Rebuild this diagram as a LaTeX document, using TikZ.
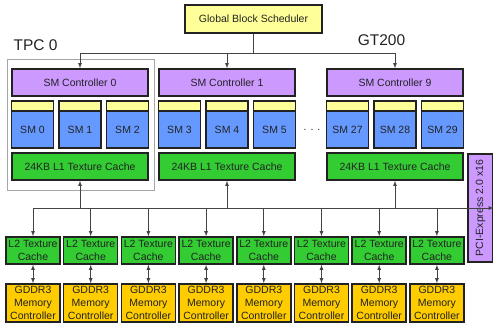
\documentclass[tikz,border=0pt]{standalone}
\usepackage{fontspec}
\setmainfont{Liberation Sans}
\usepackage{xcolor}
\definecolor{lightyellow}{RGB}{255, 255, 153}
\definecolor{lightpurple}{RGB}{204, 153, 255}
\definecolor{smblue}{RGB}{102, 153, 255}
\definecolor{cachegreen}{RGB}{51, 204, 51}
\definecolor{memorange}{RGB}{255, 204, 0}
\definecolor{darkline}{RGB}{34, 34, 34}

\begin{document}
\begin{tikzpicture}[x=1pt, y=-1pt,
    every node/.style={font=\fontsize{10.5}{13}\selectfont, text=darkline, inner sep=0pt},
    block/.style={rectangle, draw=darkline, line width=1.5pt, align=center},
    sched/.style={block, fill=lightyellow, minimum width=137pt, minimum height=28pt},
    ctrl/.style={block, fill=lightpurple, minimum width=136pt, minimum height=27pt},
    smtop/.style={block, fill=lightyellow, minimum width=42pt, minimum height=10pt},
    smbox/.style={block, fill=smblue, minimum width=42pt, minimum height=37pt},
    lone/.style={block, fill=cachegreen, minimum width=136pt, minimum height=27pt},
    ltwo/.style={block, fill=cachegreen, minimum width=54pt, minimum height=27pt},
    memctl/.style={block, fill=memorange, minimum width=54pt, minimum height=38pt},
    tpcframe/.style={rectangle, draw=gray!70, line width=0.8pt},
    biglabel/.style={font=\fontsize{15.5}{18}\selectfont},
    link/.style={draw=darkline!85, line width=0.8pt}]
    \useasboundingbox (0, 0) rectangle (493, 325);

    \node[tpcframe, minimum width=147pt, minimum height=131pt] (tpc) at (80.5, 124.5) {};
    \node[biglabel] (tpclabel) at (35.5, 45) {TPC 0};
    \node[biglabel] (gtlabel) at (381.5, 40) {GT200};

    \node[sched] (sched) at (253.5, 19) {Global Block Scheduler};

    \node[ctrl] (smc0) at (80, 82.5) {SM Controller 0};
    \node[ctrl] (smc1) at (227, 82.5) {SM Controller 1};
    \node[ctrl] (smc9) at (395, 82.5) {SM Controller 9};

    \foreach \n/\x in {0/32.5, 1/80, 2/127.5, 3/179.5, 4/227, 5/274.5, 27/347.5, 28/395, 29/442.5} {
        \node[smtop] (top\n) at (\x, 106) {};
        \node[smbox] (sm\n) at (\x, 129.5) {SM \n};
    }
    \node (dots) at (312, 130) {. . .};

    \node[lone] (l1a) at (80, 166.5) {24KB L1 Texture Cache};
    \node[lone] (l1b) at (227, 166.5) {24KB L1 Texture Cache};
    \node[lone] (l1c) at (395, 166.5) {24KB L1 Texture Cache};

    \node[block, fill=lightpurple, minimum width=108pt, minimum height=25pt, rotate=90] (pci) at (480.5, 208) {PCI-Express 2.0 x16};

    \coordinate (split) at (253.5, 53);
    \draw[link] (sched) -- (split);
    \draw[link, -latex] (split) -| (smc0);
    \draw[link, -latex] (split) -| (smc1);
    \draw[link, -latex] (split) -| (smc9);

    \coordinate (bus) at (33, 208);
    \draw[link, -latex] (bus) -- (bus -| pci.south);
    \draw[link, -latex] (bus -| l1a) -- (l1a);
    \draw[link, -latex] (bus -| l1b) -- (l1b);
    \draw[link, -latex] (bus -| l1c) -- (l1c);

    \foreach \i [evaluate=\i as \x using 33+57.7*\i] in {0,...,7} {
        \node[ltwo] (l2\i) at (\x, 250.5) {L2 Texture\\Cache};
        \node[memctl] (mc\i) at (\x, 303) {GDDR3\\Memory\\Controller};
        \draw[link, -latex] (bus -| l2\i) -- (l2\i);
        \draw[link, latex-latex] (l2\i) -- (mc\i);
    }
\end{tikzpicture}
\end{document}
